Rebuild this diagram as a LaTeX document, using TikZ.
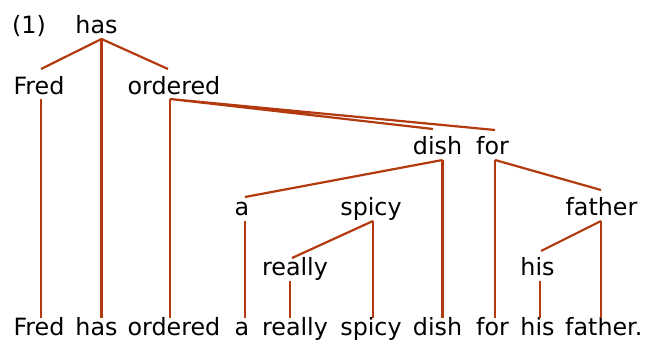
\documentclass[tikz,border=0pt]{standalone}
\usepackage{fontspec}
\setmainfont{DejaVu Sans}
\definecolor{linkc}{RGB}{178,58,14}
\begin{document}
\begin{tikzpicture}[x=1pt,y=-1pt,
  word/.style={inner sep=0pt, anchor=base, text=black,
    font=\fontsize{23.8}{28}\selectfont},
  link/.style={draw=linkc, line width=2.2pt}]
\useasboundingbox (0,0) rectangle (646,340);

% dependency tree
\node[word, anchor=base west] (num) at (12,34) {(1)};
\node[word] (t-has) at (96.5,34) {has};
\node[word] (t-fred) at (39,94) {Fred};
\node[word] (t-ordered) at (174,94) {ordered};
\node[word] (t-dish) at (437.5,154.5) {dish};
\node[word] (t-for) at (492.5,154.5) {for};
\node[word] (t-a) at (242,215) {a};
\node[word] (t-spicy) at (371,215) {spicy};
\node[word] (t-father) at (601.5,215) {father};
\node[word] (t-really) at (295,275) {really};
\node[word] (t-his) at (537.5,275) {his};

% sentence
\node[word] (b-fred) at (39,335) {Fred};
\node[word] (b-has) at (96.5,335) {has};
\node[word] (b-ordered) at (174,335) {ordered};
\node[word] (b-a) at (242,335) {a};
\node[word] (b-really) at (295,335) {really};
\node[word] (b-spicy) at (371,335) {spicy};
\node[word] (b-dish) at (437.5,335) {dish};
\node[word] (b-for) at (492.5,335) {for};
\node[word] (b-his) at (537.5,335) {his};
\node[word, anchor=base west] (b-father) at (565,335) {father.};

% attachment points above and below each word
\coordinate (has-dn) at (101.5,39);
\coordinate (fred-up) at (41,69);
\coordinate (fred-dn) at (41,99);
\coordinate (ordered-up) at (168,69);
\coordinate (ordered-dn) at (170,99);
\coordinate (dish-up) at (433,129);
\coordinate (dish-dn) at (442.5,160);
\coordinate (for-up) at (495,130);
\coordinate (for-dn) at (495,160);
\coordinate (a-up) at (245,197);
\coordinate (a-dn) at (245,221);
\coordinate (spicy-dn) at (373,221);
\coordinate (father-up) at (601,190);
\coordinate (father-dn) at (601,221);
\coordinate (really-up) at (292,258);
\coordinate (really-dn) at (290,281);
\coordinate (his-up) at (541,251);
\coordinate (his-dn) at (540,281);

% projection ends above the sentence
\coordinate (fred-end) at (41,317.5);
\coordinate (has-end) at (101.5,317.5);
\coordinate (ordered-end) at (170,317.5);
\coordinate (a-end) at (245,317.5);
\coordinate (really-end) at (290,317.5);
\coordinate (spicy-end) at (373,317.5);
\coordinate (dish-end) at (442.5,317.5);
\coordinate (for-end) at (495,317.5);
\coordinate (his-end) at (540,317.5);
\coordinate (father-end) at (601,317.5);

% dependencies
\draw[link] (fred-up) -- (has-dn) -- (ordered-up);
\draw[link] (dish-up) -- (ordered-dn) -- (for-up);
\draw[link] (a-up) -- (dish-dn);
\draw[link] (for-dn) -- (father-up);
\draw[link] (really-up) -- (spicy-dn);
\draw[link] (his-up) -- (father-dn);

% projection lines
\draw[link] (has-dn) -- (has-end);
\draw[link] (fred-dn) -- (fred-end);
\draw[link] (ordered-dn) -- (ordered-end);
\draw[link] (dish-dn) -- (dish-end);
\draw[link] (for-dn) -- (for-end);
\draw[link] (a-dn) -- (a-end);
\draw[link] (spicy-dn) -- (spicy-end);
\draw[link] (father-dn) -- (father-end);
\draw[link] (really-dn) -- (really-end);
\draw[link] (his-dn) -- (his-end);
\end{tikzpicture}
\end{document}
